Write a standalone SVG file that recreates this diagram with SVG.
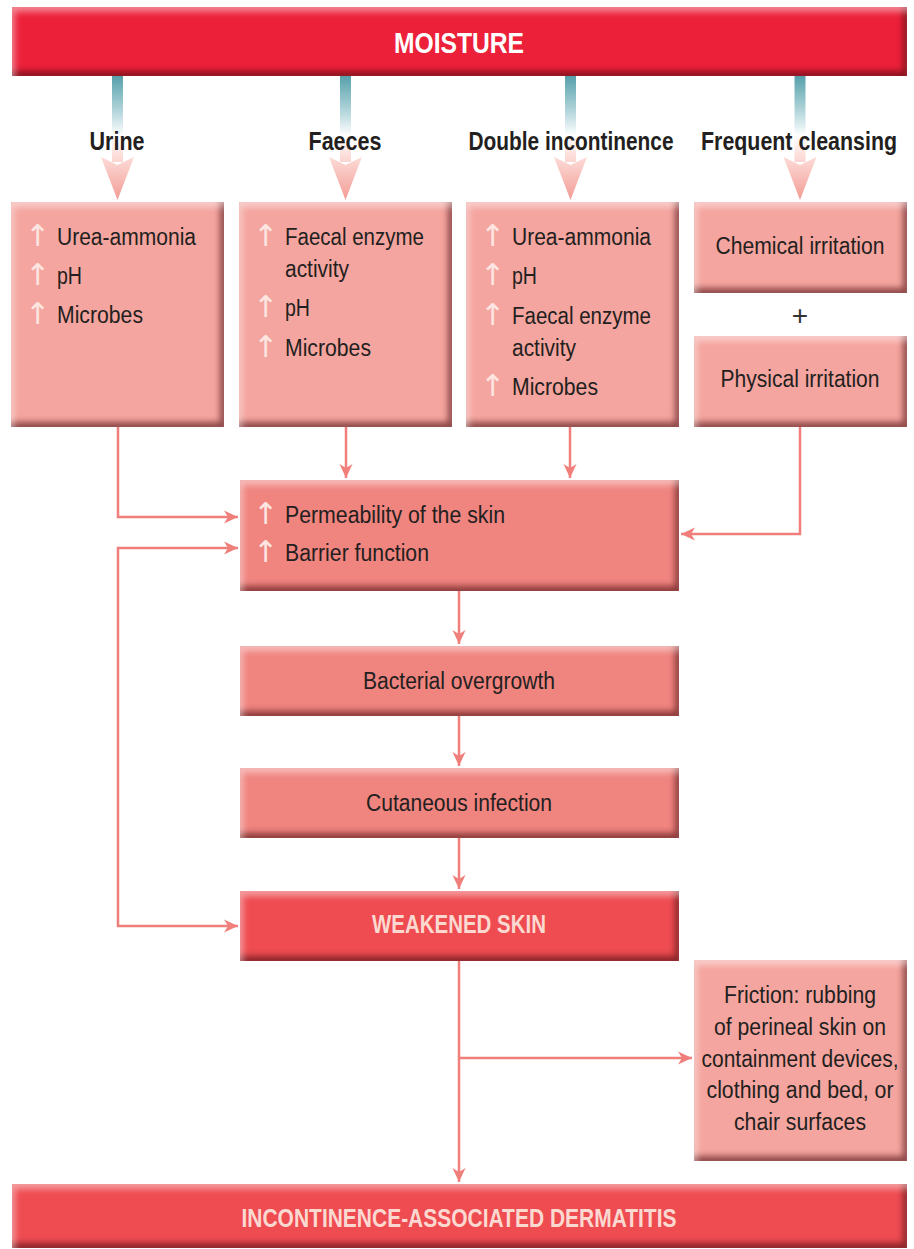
<svg xmlns="http://www.w3.org/2000/svg" width="914" height="1249" viewBox="0 0 914 1249">
<defs>
<filter id="bevel" x="-5%" y="-10%" width="110%" height="120%" color-interpolation-filters="sRGB">
<feGaussianBlur in="SourceAlpha" stdDeviation="3" result="b"/>
<feOffset in="b" dx="-4" dy="-5" result="o1"/>
<feComposite in="SourceAlpha" in2="o1" operator="out" result="s1"/>
<feFlood flood-color="#4a0a0e" flood-opacity="0.6"/>
<feComposite in2="s1" operator="in" result="dark"/>
<feOffset in="b" dx="3" dy="5" result="o2"/>
<feComposite in="SourceAlpha" in2="o2" operator="out" result="s2"/>
<feFlood flood-color="#ffffff" flood-opacity="0.45"/>
<feComposite in2="s2" operator="in" result="light"/>
<feMerge><feMergeNode in="SourceGraphic"/><feMergeNode in="dark"/><feMergeNode in="light"/></feMerge>
</filter>
<linearGradient id="stem" gradientUnits="userSpaceOnUse" x1="0" y1="76" x2="0" y2="200">
<stop offset="0" stop-color="#56a0ab"/>
<stop offset="0.3" stop-color="#b9d9de"/>
<stop offset="0.48" stop-color="#ffffff"/>
<stop offset="0.65" stop-color="#fcdcd8"/>
<stop offset="1" stop-color="#f39b94"/>
</linearGradient>
<marker id="ah" viewBox="-16 -8 16 16" markerWidth="16" markerHeight="16" refX="0" refY="0" orient="auto" markerUnits="userSpaceOnUse">
<path d="M0,0 L-14,-6.5 L-10,0 L-14,6.5 Z" fill="#f07f7b"/>
</marker>
<g id="stemArrow">
<rect x="-5.5" y="76" width="11" height="86" fill="url(#stem)"/>
<path d="M-16.5,157 L0,165 L16.5,157 L0,200 Z" fill="url(#stem)"/>
</g>
</defs>
<style>
.bx{filter:url(#bevel);}
.light{fill:#f5a59f;}
.mid{fill:#f0847f;}
.strong{fill:#ee4c51;}
.t{font-family:"Liberation Sans Narrow","Liberation Sans",Arial,sans-serif;font-size:23px;fill:#231f20;}
.c{text-anchor:middle;}
.lbl{font-family:"Liberation Sans Narrow","Liberation Sans",Arial,sans-serif;font-size:25px;font-weight:bold;fill:#231f20;text-anchor:middle;}
.hd{font-family:"Liberation Sans Narrow","Liberation Sans",Arial,sans-serif;font-size:25px;font-weight:bold;fill:#fcd9d0;text-anchor:middle;}
.up{font-family:"DejaVu Sans","Liberation Sans",sans-serif;font-size:30px;fill:#fde6e2;}
.con{fill:none;stroke:#f07f7b;stroke-width:2.5;marker-end:url(#ah);}
</style>

<g id="moisture">
<rect class="bx" x="12" y="7" width="895" height="69" fill="#ec2039"/>
<text x="459" y="53" font-family="Liberation Sans Narrow,Liberation Sans,Arial,sans-serif" font-size="29" font-weight="bold" fill="#ffffff" text-anchor="middle" textLength="130" lengthAdjust="spacingAndGlyphs">MOISTURE</text>
</g>

<g id="sources">
<use href="#stemArrow" x="117.5"/>
<use href="#stemArrow" x="345.5"/>
<use href="#stemArrow" x="570.5"/>
<use href="#stemArrow" x="800"/>
<text class="lbl" x="117" y="150" textLength="55" lengthAdjust="spacingAndGlyphs">Urine</text>
<text class="lbl" x="345" y="150" textLength="73" lengthAdjust="spacingAndGlyphs">Faeces</text>
<text class="lbl" x="571" y="150" textLength="205" lengthAdjust="spacingAndGlyphs">Double incontinence</text>
<text class="lbl" x="799" y="150" textLength="196" lengthAdjust="spacingAndGlyphs">Frequent cleansing</text>
</g>

<g id="urine-box">
<rect class="bx light" x="11" y="202" width="213" height="225"/>
<text class="up" x="25" y="246">↑</text><text class="t" x="57" y="245" textLength="139" lengthAdjust="spacingAndGlyphs">Urea-ammonia</text>
<text class="up" x="25" y="285">↑</text><text class="t" x="57" y="284" textLength="25" lengthAdjust="spacingAndGlyphs">pH</text>
<text class="up" x="25" y="324">↑</text><text class="t" x="57" y="323" textLength="86" lengthAdjust="spacingAndGlyphs">Microbes</text>
</g>

<g id="faeces-box">
<rect class="bx light" x="239" y="202" width="213" height="225"/>
<text class="up" x="253" y="246">↑</text><text class="t" x="285" y="245" textLength="139" lengthAdjust="spacingAndGlyphs">Faecal enzyme</text>
<text class="t" x="285" y="277" textLength="64" lengthAdjust="spacingAndGlyphs">activity</text>
<text class="up" x="253" y="317">↑</text><text class="t" x="285" y="316" textLength="25" lengthAdjust="spacingAndGlyphs">pH</text>
<text class="up" x="253" y="357">↑</text><text class="t" x="285" y="356" textLength="86" lengthAdjust="spacingAndGlyphs">Microbes</text>
</g>

<g id="double-box">
<rect class="bx light" x="466" y="202" width="213" height="225"/>
<text class="up" x="480" y="246">↑</text><text class="t" x="512" y="245" textLength="139" lengthAdjust="spacingAndGlyphs">Urea-ammonia</text>
<text class="up" x="480" y="285">↑</text><text class="t" x="512" y="284" textLength="25" lengthAdjust="spacingAndGlyphs">pH</text>
<text class="up" x="480" y="325">↑</text><text class="t" x="512" y="324" textLength="139" lengthAdjust="spacingAndGlyphs">Faecal enzyme</text>
<text class="t" x="512" y="356" textLength="64" lengthAdjust="spacingAndGlyphs">activity</text>
<text class="up" x="480" y="396">↑</text><text class="t" x="512" y="395" textLength="86" lengthAdjust="spacingAndGlyphs">Microbes</text>
</g>

<g id="chemical">
<rect class="bx light" x="694" y="202" width="213" height="91"/>
<text class="t c" x="800" y="254" textLength="169" lengthAdjust="spacingAndGlyphs">Chemical irritation</text>
</g>
<g id="plus">
<text x="800" y="325" font-family="Liberation Sans,Arial,sans-serif" font-size="28" fill="#333333" text-anchor="middle">+</text>
</g>
<g id="physical">
<rect class="bx light" x="694" y="336" width="213" height="91"/>
<text class="t c" x="800" y="387" textLength="159" lengthAdjust="spacingAndGlyphs">Physical irritation</text>
</g>

<g id="permeability">
<rect class="bx mid" x="240" y="480" width="439" height="111"/>
<text class="up" x="253" y="524">↑</text><text class="t" x="285" y="523" textLength="220" lengthAdjust="spacingAndGlyphs">Permeability of the skin</text>
<text class="up" x="253" y="562">↑</text><text class="t" x="285" y="561" textLength="144" lengthAdjust="spacingAndGlyphs">Barrier function</text>
</g>

<g id="bacterial">
<rect class="bx mid" x="240" y="646" width="439" height="70"/>
<text class="t c" x="459" y="689" textLength="192" lengthAdjust="spacingAndGlyphs">Bacterial overgrowth</text>
</g>

<g id="cutaneous">
<rect class="bx mid" x="240" y="768" width="439" height="70"/>
<text class="t c" x="459" y="811" textLength="186" lengthAdjust="spacingAndGlyphs">Cutaneous infection</text>
</g>

<g id="weakened">
<rect class="bx strong" x="240" y="891" width="439" height="70"/>
<text class="hd" x="459" y="933" textLength="174" lengthAdjust="spacingAndGlyphs">WEAKENED SKIN</text>
</g>

<g id="friction">
<rect class="bx light" x="694" y="960" width="213" height="201"/>
<text class="t c" x="800" y="1003" textLength="152" lengthAdjust="spacingAndGlyphs">Friction: rubbing</text>
<text class="t c" x="800" y="1035" textLength="172" lengthAdjust="spacingAndGlyphs">of perineal skin on</text>
<text class="t c" x="800" y="1067" textLength="197" lengthAdjust="spacingAndGlyphs">containment devices,</text>
<text class="t c" x="800" y="1098" textLength="187" lengthAdjust="spacingAndGlyphs">clothing and bed, or</text>
<text class="t c" x="800" y="1130" textLength="132" lengthAdjust="spacingAndGlyphs">chair surfaces</text>
</g>

<g id="iad">
<rect class="bx strong" x="12" y="1184" width="895" height="64"/>
<text class="hd" x="459" y="1227" textLength="435" lengthAdjust="spacingAndGlyphs">INCONTINENCE-ASSOCIATED DERMATITIS</text>
</g>

<g id="connectors">
<path class="con" d="M118,427 V517 H238"/>
<path class="con" d="M346,427 V478"/>
<path class="con" d="M570,427 V478"/>
<path class="con" d="M800,427 V534 H681"/>
<path class="con" d="M118,737 V548 H238"/>
<path class="con" d="M118,737 V926 H238"/>
<path class="con" d="M459,591 V644"/>
<path class="con" d="M459,716 V766"/>
<path class="con" d="M459,838 V889"/>
<path class="con" d="M459,961 V1182"/>
<path class="con" d="M459,1058 H692"/>
</g>
</svg>
